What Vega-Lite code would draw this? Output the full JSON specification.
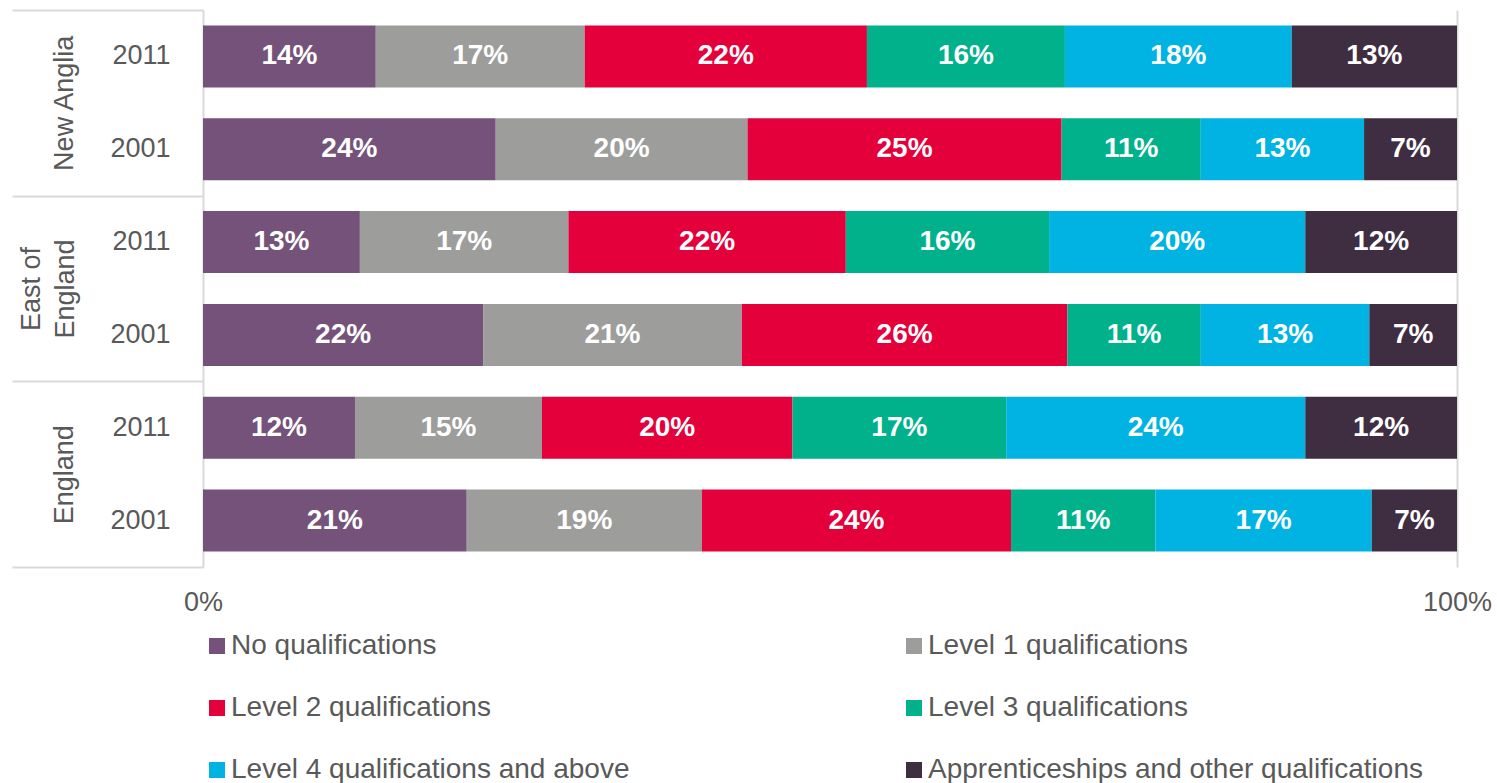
{
  "$schema": "https://vega.github.io/schema/vega-lite/v6.json",
  "width": 1254,
  "height": 557,
  "autosize": {"type": "none"},
  "padding": {"left": 203, "top": 10, "right": 40, "bottom": 216},
  "config": {"view": {"stroke": null}, "font": "Liberation Sans"},
  "datasets": {
    "regions": [
      {"region": "New Anglia"},
      {"region": "East of England"},
      {"region": "England"}
    ],
    "main": [
      {"row": "New Anglia|2011", "cat": "No qualifications", "k": 1, "value": 13.78, "label": "14%"},
      {"row": "New Anglia|2011", "cat": "Level 1 qualifications", "k": 2, "value": 16.66, "label": "17%"},
      {"row": "New Anglia|2011", "cat": "Level 2 qualifications", "k": 3, "value": 22.51, "label": "22%"},
      {"row": "New Anglia|2011", "cat": "Level 3 qualifications", "k": 4, "value": 15.79, "label": "16%"},
      {"row": "New Anglia|2011", "cat": "Level 4 qualifications and above", "k": 5, "value": 18.09, "label": "18%"},
      {"row": "New Anglia|2011", "cat": "Apprenticeships and other qualifications", "k": 6, "value": 13.18, "label": "13%"},
      {"row": "New Anglia|2001", "cat": "No qualifications", "k": 1, "value": 23.34, "label": "24%"},
      {"row": "New Anglia|2001", "cat": "Level 1 qualifications", "k": 2, "value": 20.08, "label": "20%"},
      {"row": "New Anglia|2001", "cat": "Level 2 qualifications", "k": 3, "value": 25.04, "label": "25%"},
      {"row": "New Anglia|2001", "cat": "Level 3 qualifications", "k": 4, "value": 11.10, "label": "11%"},
      {"row": "New Anglia|2001", "cat": "Level 4 qualifications and above", "k": 5, "value": 13.02, "label": "13%"},
      {"row": "New Anglia|2001", "cat": "Apprenticeships and other qualifications", "k": 6, "value": 7.41, "label": "7%"},
      {"row": "East of England|2011", "cat": "No qualifications", "k": 1, "value": 12.51, "label": "13%"},
      {"row": "East of England|2011", "cat": "Level 1 qualifications", "k": 2, "value": 16.63, "label": "17%"},
      {"row": "East of England|2011", "cat": "Level 2 qualifications", "k": 3, "value": 22.12, "label": "22%"},
      {"row": "East of England|2011", "cat": "Level 3 qualifications", "k": 4, "value": 16.21, "label": "16%"},
      {"row": "East of England|2011", "cat": "Level 4 qualifications and above", "k": 5, "value": 20.43, "label": "20%"},
      {"row": "East of England|2011", "cat": "Apprenticeships and other qualifications", "k": 6, "value": 12.10, "label": "12%"},
      {"row": "East of England|2001", "cat": "No qualifications", "k": 1, "value": 22.34, "label": "22%"},
      {"row": "East of England|2001", "cat": "Level 1 qualifications", "k": 2, "value": 20.63, "label": "21%"},
      {"row": "East of England|2001", "cat": "Level 2 qualifications", "k": 3, "value": 25.96, "label": "26%"},
      {"row": "East of England|2001", "cat": "Level 3 qualifications", "k": 4, "value": 10.64, "label": "11%"},
      {"row": "East of England|2001", "cat": "Level 4 qualifications and above", "k": 5, "value": 13.44, "label": "13%"},
      {"row": "East of England|2001", "cat": "Apprenticeships and other qualifications", "k": 6, "value": 6.99, "label": "7%"},
      {"row": "England|2011", "cat": "No qualifications", "k": 1, "value": 12.12, "label": "12%"},
      {"row": "England|2011", "cat": "Level 1 qualifications", "k": 2, "value": 14.91, "label": "15%"},
      {"row": "England|2011", "cat": "Level 2 qualifications", "k": 3, "value": 19.98, "label": "20%"},
      {"row": "England|2011", "cat": "Level 3 qualifications", "k": 4, "value": 17.04, "label": "17%"},
      {"row": "England|2011", "cat": "Level 4 qualifications and above", "k": 5, "value": 23.85, "label": "24%"},
      {"row": "England|2011", "cat": "Apprenticeships and other qualifications", "k": 6, "value": 12.10, "label": "12%"},
      {"row": "England|2001", "cat": "No qualifications", "k": 1, "value": 21.03, "label": "21%"},
      {"row": "England|2001", "cat": "Level 1 qualifications", "k": 2, "value": 18.75, "label": "19%"},
      {"row": "England|2001", "cat": "Level 2 qualifications", "k": 3, "value": 24.65, "label": "24%"},
      {"row": "England|2001", "cat": "Level 3 qualifications", "k": 4, "value": 11.52, "label": "11%"},
      {"row": "England|2001", "cat": "Level 4 qualifications and above", "k": 5, "value": 17.24, "label": "17%"},
      {"row": "England|2001", "cat": "Apprenticeships and other qualifications", "k": 6, "value": 6.80, "label": "7%"}
    ]
  },
  "layer": [
    {
      "data": {"name": "regions"},
      "mark": {"type": "bar", "opacity": 0},
      "encoding": {
        "y": {
          "field": "region",
          "type": "nominal",
          "scale": {"domain": ["New Anglia", "East of England", "England"], "paddingInner": 0, "paddingOuter": 0},
          "axis": {
            "orient": "left",
            "title": null,
            "domain": false,
            "grid": false,
            "ticks": true,
            "tickBand": "extent",
            "tickSize": 191,
            "tickWidth": 2,
            "tickColor": "#d9d9d9",
            "labelAngle": -90,
            "labelAlign": "center",
            "labelBaseline": "bottom",
            "labelPadding": {"condition": {"test": "datum.value == 'East of England'", "value": -33}, "value": -66},
            "labelFontSize": 27,
            "labelLineHeight": 34,
            "labelColor": "#595959",
            "labelFont": "Liberation Sans",
            "labelExpr": "datum.value == 'East of England' ? ['East of', 'England'] : datum.value"
          }
        }
      }
    },
    {
      "data": {"name": "main"},
      "encoding": {
        "y": {
          "field": "row",
          "type": "nominal",
          "scale": {
            "domain": ["New Anglia|2011", "New Anglia|2001", "East of England|2011", "East of England|2001", "England|2011", "England|2001"],
            "paddingInner": 0.332,
            "paddingOuter": 0.166
          },
          "axis": {
            "orient": "left",
            "title": null,
            "domain": false,
            "ticks": false,
            "grid": false,
            "labelPadding": 33,
            "labelFontSize": 27,
            "labelColor": "#595959",
            "labelFont": "Liberation Sans",
            "labelExpr": "split(datum.value, '|')[1]"
          }
        }
      },
      "layer": [
        {
          "mark": {"type": "bar"},
          "encoding": {
            "x": {
              "field": "value",
              "type": "quantitative",
              "stack": "normalize",
              "scale": {"domain": [0, 1], "nice": false},
              "axis": {
                "title": null,
                "values": [0, 1],
                "format": ".0%",
                "grid": true,
                "gridColor": "#d9d9d9",
                "gridWidth": 2,
                "domain": false,
                "ticks": false,
                "labelFlush": false,
                "labelPadding": 22,
                "labelFontSize": 27,
                "labelColor": "#595959",
                "labelFont": "Liberation Sans"
              }
            },
            "color": {
              "field": "cat",
              "type": "nominal",
              "scale": {
                "domain": ["No qualifications", "Level 1 qualifications", "Level 2 qualifications", "Level 3 qualifications", "Level 4 qualifications and above", "Apprenticeships and other qualifications"],
                "range": ["#74527A", "#9D9D9C", "#E4003B", "#00B18B", "#00B3E3", "#3F2D42"]
              },
              "legend": {
                "orient": "none",
                "legendX": 0,
                "legendY": 622,
                "columns": 2,
                "direction": "horizontal",
                "title": null,
                "padding": 0,
                "symbolType": "square",
                "symbolSize": 256,
                "symbolStrokeWidth": 0,
                "symbolOpacity": 1,
                "labelFontSize": 28,
                "labelColor": "#595959",
                "labelFont": "Liberation Sans",
                "labelOffset": 0,
                "labelLimit": 0,
                "rowPadding": 34,
                "columnPadding": 270
              }
            },
            "order": {"field": "k", "type": "quantitative"}
          }
        },
        {
          "mark": {"type": "text", "color": "white", "fontWeight": "bold", "fontSize": 28, "font": "Liberation Sans"},
          "encoding": {
            "x": {"field": "value", "type": "quantitative", "stack": "normalize", "bandPosition": 0.5},
            "text": {"field": "label"},
            "order": {"field": "k", "type": "quantitative"}
          }
        }
      ]
    }
  ],
  "resolve": {"scale": {"y": "independent"}}
}
